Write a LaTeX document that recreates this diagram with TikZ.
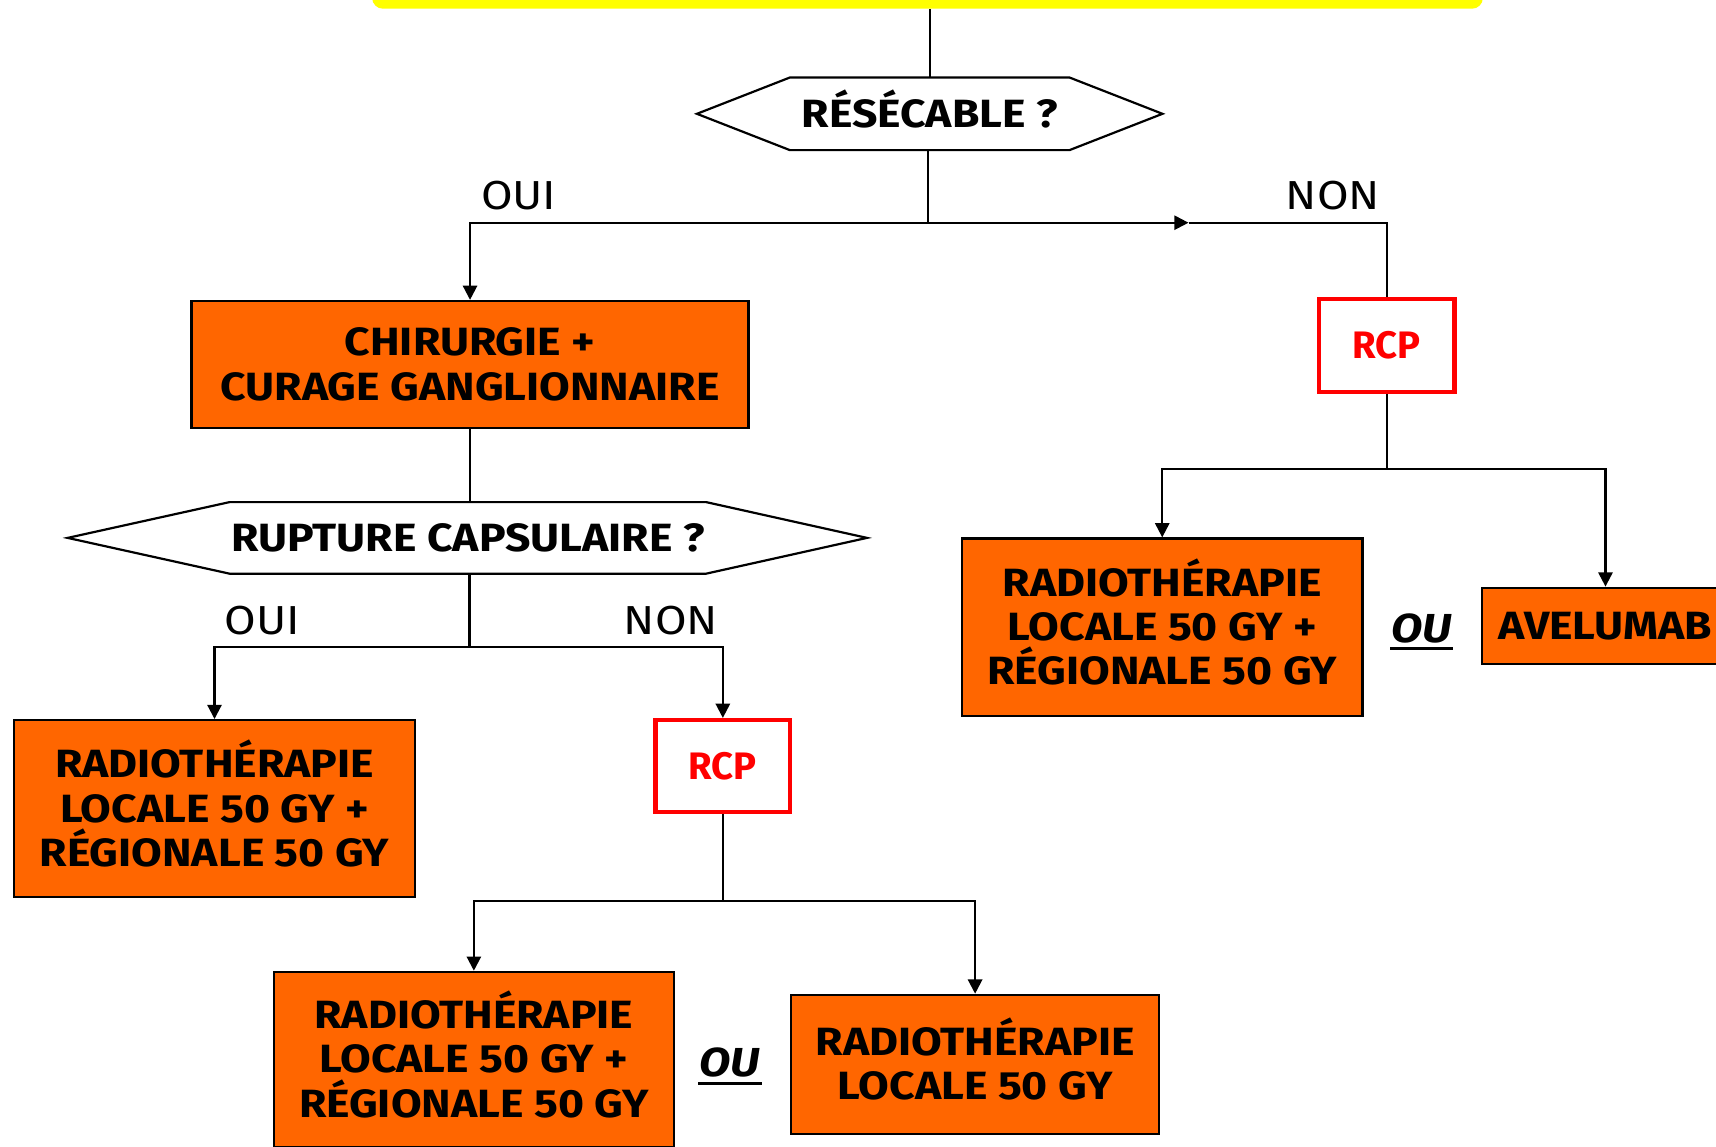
\documentclass[tikz,border=0pt]{standalone}
\usepackage{fontspec}
\setmainfont{Fira Sans}[FakeStretch=1.13]
\newfontfamily\rcpfont{Fira Sans}
\usetikzlibrary{arrows.meta,calc}
\definecolor{orng}{HTML}{FF6600}
\definecolor{rcpred}{HTML}{FF0000}
\definecolor{ybar}{HTML}{FFFF00}
\newcommand\capline[1]{\raisebox{0pt}[\fontcharht\font`\H][0pt]{#1}}
\tikzset{
  box/.style={draw=black, line width=2pt, fill=orng, align=center, inner sep=0pt,
    font=\fontsize{36}{40.5}\selectfont\bfseries},
  rcpbox/.style={draw=rcpred, line width=4pt, fill=white, text=rcpred, inner sep=0pt,
    font=\rcpfont\fontsize{35}{40}\selectfont\bfseries},
  hexa/.style={inner sep=0pt, font=\fontsize{36}{40}\selectfont\bfseries},
  hexline/.style={line width=2pt, draw=black, line join=miter},
  lbl/.style={inner sep=0pt, font=\fontsize{37}{40}\selectfont},
  oulbl/.style={inner sep=1pt, font=\fontsize{37}{40}\selectfont\bfseries\itshape},
  conn/.style={line width=2pt, draw=black},
  arr/.style={conn, -{Triangle[length=13pt,width=13pt]}},
}
\begin{document}
\begin{tikzpicture}[x=1pt,y=-1pt]
\useasboundingbox (0,0) rectangle (1568,1048);
\clip (0,0) rectangle (1568,1048);
% top bar
\node[fill=ybar, rounded corners=10pt, minimum width=1015, minimum height=40, inner sep=0pt] (top) at (847.5,-12) {};
% decisions
\node[hexa, minimum width=255, minimum height=66] (res) at (849.5,104) {\capline{RÉSÉCABLE ?}};
\draw[hexline] (res.north west) -- (res.north east) -- ($(res.east)+(85,0)$) -- (res.south east) -- (res.south west) -- ($(res.west)+(-85,0)$) -- cycle;
\node[box, minimum width=509, minimum height=116] (chir) at (429.5,333) {CHIRURGIE +\\CURAGE GANGLIONNAIRE};
\node[hexa, minimum width=435, minimum height=65] (rup) at (427.5,491.5) {RUPTURE CAPSULAIRE ?};
\draw[hexline] (rup.north west) -- (rup.north east) -- ($(rup.east)+(147,0)$) -- (rup.south east) -- (rup.south west) -- ($(rup.west)+(-148,0)$) -- cycle;
% boxes
\node[box, minimum width=366, minimum height=162] (r1) at (196,739) {\capline{RADIOTHÉRAPIE}\\LOCALE 50 GY +\\RÉGIONALE 50 GY};
\node[rcpbox, minimum width=123, minimum height=84] (rcp1) at (660.5,700) {RCP};
\node[box, minimum width=366, minimum height=160] (r2) at (433,968) {\capline{RADIOTHÉRAPIE}\\LOCALE 50 GY +\\RÉGIONALE 50 GY};
\node[box, minimum width=336, minimum height=127] (r3) at (891,972.5) {\capline{RADIOTHÉRAPIE}\\LOCALE 50 GY};
\node[rcpbox, minimum width=124, minimum height=85] (rcp2) at (1267,315.5) {RCP};
\node[box, minimum width=366, minimum height=162] (r4) at (1062,573) {\capline{RADIOTHÉRAPIE}\\LOCALE 50 GY +\\RÉGIONALE 50 GY};
\node[box, minimum width=226, minimum height=70] (ave) at (1467,572) {AVELUMAB};
% OU labels
\node[oulbl] (ou1) at (1299,574) {OU};
\draw[line width=3pt] ([yshift=-6pt]ou1.base west) -- ([yshift=-6pt]ou1.base east);
\node[oulbl] (ou2) at (667,971) {OU};
\draw[line width=3pt] ([yshift=-6pt]ou2.base west) -- ([yshift=-6pt]ou2.base east);
% branch labels
\node[lbl] (oui1) at (474,179) {OUI};
\node[lbl] (non1) at (1218,179) {NON};
\node[lbl] (oui2) at (240,567) {OUI};
\node[lbl] (non2) at (613,567) {NON};
% junctions
\coordinate (j1) at (848,203.5);
\coordinate (ja) at (1086,203.5);
\coordinate (j2) at (429,591);
\coordinate (j3) at (661,823);
\coordinate (j4) at (1267,428.5);
% connectors
\draw[conn] (res.north |- top.south) -- (res.north);
\draw[conn] (res.south -| j1) -- (j1);
\draw[arr] (j1) -| (chir.north);
\draw[arr] (j1) -- (ja);
\draw[conn] (ja) -| (rcp2.north);
\draw[conn, line width=2.5pt] (chir.south) -- (rup.north -| chir.south);
\draw[conn] (rup.south -| j2) -- (j2);
\draw[arr] (j2) -| (r1.north);
\draw[arr] (j2) -| (rcp1.north);
\draw[conn] (rcp1.south -| j3) -- (j3);
\draw[arr] (j3) -| (r2.north);
\draw[arr] (j3) -| (r3.north);
\draw[conn] (rcp2.south) -- (j4);
\draw[arr] (j4) -| (r4.north);
\draw[arr] (j4) -| (ave.north);
\end{tikzpicture}
\end{document}
